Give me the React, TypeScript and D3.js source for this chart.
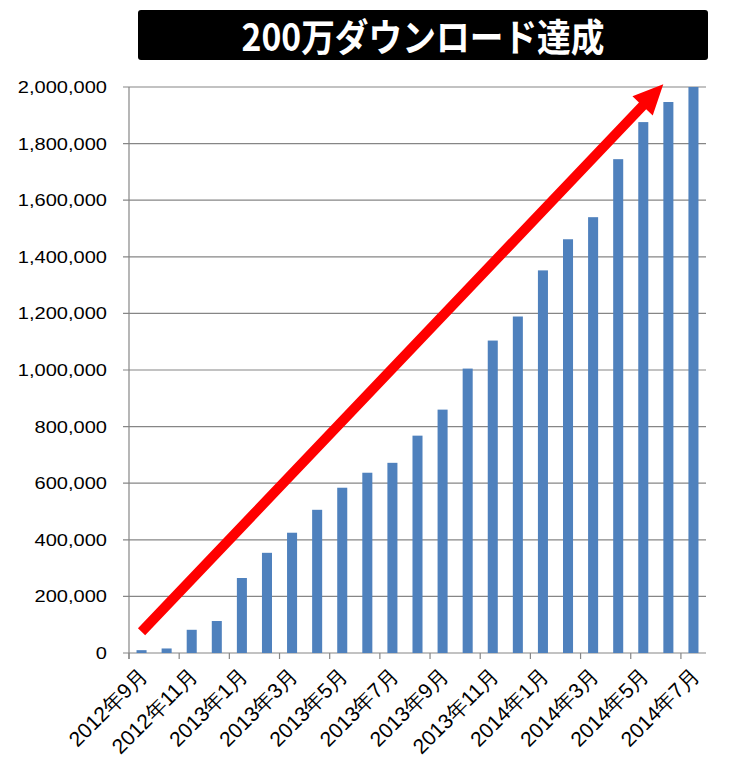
import React from 'react';
import * as d3 from 'd3';

const width = 730;
const height = 775;
const margin = { left: 129, right: 24, top: 87, bottom: 122 };

const months = [
  '2012年9月', '2012年10月', '2012年11月', '2012年12月',
  '2013年1月', '2013年2月', '2013年3月', '2013年4月', '2013年5月', '2013年6月',
  '2013年7月', '2013年8月', '2013年9月', '2013年10月', '2013年11月', '2013年12月',
  '2014年1月', '2014年2月', '2014年3月', '2014年4月', '2014年5月', '2014年6月', '2014年7月',
];
const downloads = [
  10000, 16000, 82000, 113000,
  265000, 354000, 425000, 506000, 584000, 637000,
  672000, 768000, 860000, 1005000, 1104000, 1189000,
  1352000, 1462000, 1540000, 1745000, 1876000, 1947000, 2000000,
];
const yTicks = [0, 200000, 400000, 600000, 800000, 1000000, 1200000, 1400000, 1600000, 1800000, 2000000];
const title = '200万ダウンロード達成';

const x = d3.scaleBand()
  .domain(months)
  .range([margin.left, width - margin.right]);

const y = d3.scaleLinear()
  .domain([0, 2000000])
  .range([height - margin.bottom, margin.top]);

const fmt = d3.format(',');
const gridColor = '#868686';
const barColor = '#4F81BD';

function arrowPath() {
  // trend arrow from the first month up to the 2,000,000 line
  const x0 = x(months[0])! + x.bandwidth() / 2;
  const y0 = y(75000);
  const x1 = x(months[20])! + x.bandwidth() / 2 + 20;
  const y1 = y(2010000);
  const dx = x1 - x0, dy = y1 - y0;
  const len = Math.hypot(dx, dy);
  const ux = dx / len, uy = dy / len;
  const px = -uy, py = ux;
  const shaft = 5, head = 14, headLen = 30;
  const bx = x1 - ux * headLen, by = y1 - uy * headLen;
  const pts = [
    [x0 + px * shaft, y0 + py * shaft],
    [bx + px * shaft, by + py * shaft],
    [bx + px * head, by + py * head],
    [x1, y1],
    [bx - px * head, by - py * head],
    [bx - px * shaft, by - py * shaft],
    [x0 - px * shaft, y0 - py * shaft],
  ];
  return 'M' + pts.map(p => p.join(',')).join('L') + 'Z';
}

export default function App() {
  const bw = x.step() * 0.4;
  const x0 = margin.left;
  const x1 = width - margin.right;
  const yBase = y(0);
  return (
    <svg width={width} height={height} style={{ position: 'absolute', left: 0, top: 0, background: '#fff' }}>
      <rect x={138} y={10} width={570} height={50} rx={3} fill="#000" />
      <text x={423} y={51} textAnchor="middle" fill="#fff" fontSize={38} fontWeight="bold"
        textLength={363} lengthAdjust="spacingAndGlyphs"
        fontFamily="'Noto Sans CJK JP', sans-serif">{title}</text>

      {yTicks.map(t => (
        <g key={t}>
          <line x1={x0 - 6} x2={x1} y1={y(t)} y2={y(t)} stroke={gridColor} strokeWidth={1.2} />
          <text transform={`translate(${x0 - 22},${y(t) + 6}) scale(1.18,1)`} textAnchor="end"
            fontSize={17} fontFamily="'Liberation Sans', Arial, sans-serif" fill="#000">{fmt(t)}</text>
        </g>
      ))}
      <line x1={x0} x2={x0} y1={y(2000000)} y2={yBase + 6} stroke={gridColor} strokeWidth={1.2} />

      {months.map((m, i) => (
        <rect key={m} x={x(m)! + (x.step() - bw) / 2} y={y(downloads[i])} width={bw}
          height={yBase - y(downloads[i])} fill={barColor} />
      ))}

      {months.map((m, i) => i % 2 === 0 ? (
        <g key={m}>
          <line x1={x(m)} x2={x(m)} y1={yBase} y2={yBase + 6} stroke={gridColor} strokeWidth={1.2} />
          <text transform={`translate(${x(m)! + x.bandwidth() / 2 + 7},${yBase + 24}) rotate(-45)`}
            textAnchor="end" fontSize={21} fontFamily="'Liberation Sans', Arial, sans-serif" fill="#000">{m}</text>
        </g>
      ) : null)}

      <path d={arrowPath()} fill="#FF0000" />
    </svg>
  );
}
